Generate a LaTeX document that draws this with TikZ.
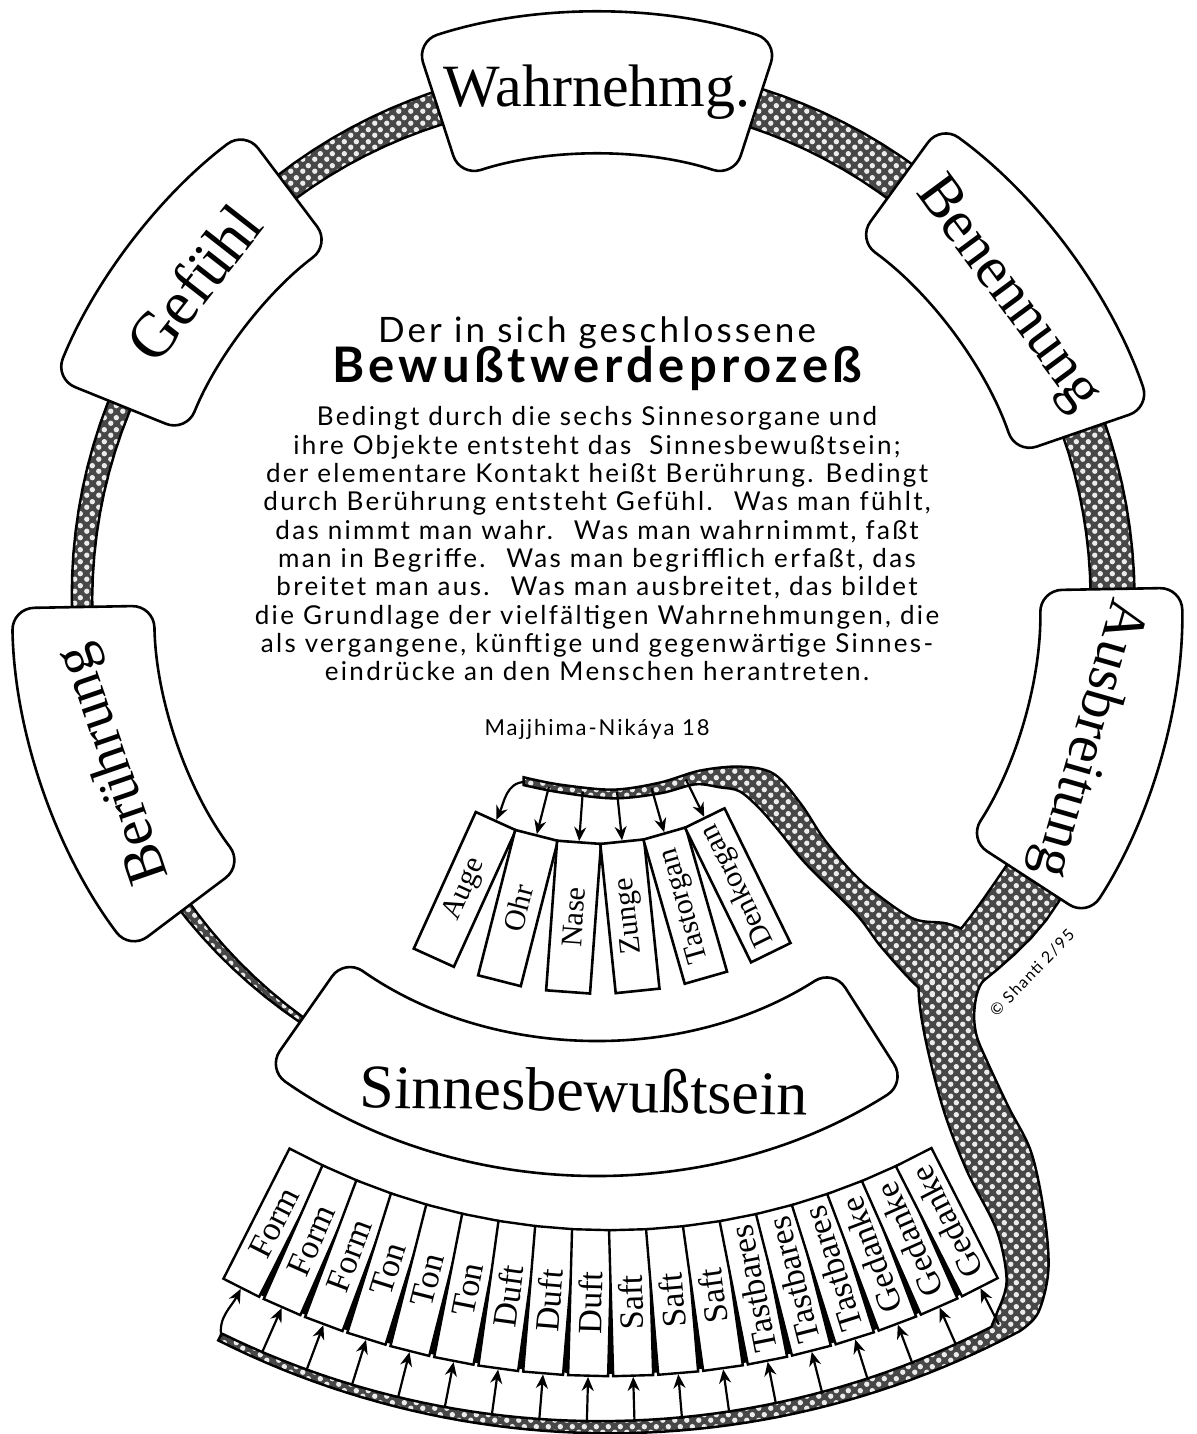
\documentclass[tikz,border=0pt]{standalone}
\usepackage{fontspec}
\setmainfont{Liberation Serif}
\newfontfamily\labelfont{Liberation Serif}
\newfontfamily\bodyfont[LetterSpace=9]{Lato}
\usetikzlibrary{calc,patterns,arrows.meta}

% texture of the bands
\pgfdeclarepatternformonly{blobs}{\pgfpointorigin}{\pgfpoint{6pt}{6pt}}{\pgfpoint{6pt}{6pt}}{%
  \pgfpathcircle{\pgfpoint{1.5pt}{1.5pt}}{1.45pt}%
  \pgfpathcircle{\pgfpoint{4.5pt}{4.5pt}}{1.45pt}%
  \pgfusepath{fill}}

% half width of the ring band, and its bulge near the branch
\pgfmathdeclarefunction{rhalf}{1}{\pgfmathparse{14+6*cos(#1-30)-0.2*max(0,#1-200)}}
\pgfmathdeclarefunction{rbump}{1}{\pgfmathparse{1/(1+((#1+35)/12)^2)}}

\tikzset{
  bandedge/.style={draw=black, line width=2.6pt},
  bandfill/.style={fill=black!72},
  bandtex/.style={pattern=blobs, pattern color=white!92!black},
  ringbox/.style={draw=black, fill=white, line width=1.3pt, rounded corners=11pt},
  ringlabel/.style={inner sep=0pt, font=\labelfont\fontsize{30}{30}\selectfont},
  organ/.style={draw=black, fill=white, line width=1.3pt, minimum width=75pt, minimum height=22pt,
    inner sep=0pt, font=\labelfont\fontsize{15}{16}\selectfont},
  objbox/.style={draw=black, fill=white, line width=1.2pt, minimum width=73pt, minimum height=20pt,
    inner sep=0pt, font=\labelfont\fontsize{17}{18}\selectfont},
  arr/.style={line width=1.1pt, -{Stealth[length=7pt, width=6pt]}},
  bodyline/.style={anchor=base, inner sep=0pt, font=\bodyfont\fontsize{13}{15}\selectfont}
}

% curved box on the ring: start angle, end angle, inner and outer radius
\newcommand\ringsector[4]{%
  \draw[ringbox, shift={(C)}] (#1:#3) arc[start angle=#1, end angle=#2, radius=#3]
    -- (#2:#4) arc[start angle=#2, end angle=#1, radius=#4] -- cycle;}

\begin{document}
\begin{tikzpicture}[x=0.5pt, y=0.5pt]
  \useasboundingbox (0,0) rectangle (1197,1434);
  \fill[white] (0,0) rectangle (1197,1434);
  \coordinate (C) at (597,836);
  \coordinate (O) at (610,873);

  % Bands
  \path[save path=\ringpath]
    plot[domain=-50:235, samples=120, variable=\t]
      ({597+(515+rhalf(\t)+20*rbump(\t))*cos(\t)}, {836+(515+rhalf(\t)+20*rbump(\t))*sin(\t)})
    -- plot[domain=235:-50, samples=120, variable=\t]
      ({597+(515-rhalf(\t)-8*rbump(\t))*cos(\t)}, {836+(515-rhalf(\t)-8*rbump(\t))*sin(\t)})
    -- cycle;
  \path[save path=\organpath]
    plot[smooth, tension=0.55] coordinates {(525,655) (560,648) (613,643) (660,650) (700,662)
      (740,666) (773,659) (800,629) (823,594) (850,562) (873,541) (913,514) (947,509) (978,497)}
    -- plot[smooth, tension=0.55] coordinates {(948,432) (920,447) (883,487) (857,521) (807,571)
      (780,604) (760,627) (740,644) (720,648) (695,651) (660,642) (613,637) (560,643) (525,650)}
    -- cycle;
  \path[save path=\downpath]
    plot[smooth, tension=0.55] coordinates {(1040,540) (1007,481) (980,451) (973,424) (975,399)
      (985,374) (1007,327) (1030,281) (1043,219) (1047,164) (1037,122) (1019,104)}
    -- plot[domain=-62:-116.6, samples=50, variable=\t] ({610+871*cos(\t)}, {873+871*sin(\t)})
    -- plot[domain=-116.6:-63.5, samples=50, variable=\t]
      ({610+(866-(\t+116.6)*0.17)*cos(\t)}, {873+(866-(\t+116.6)*0.17)*sin(\t)})
    -- plot[smooth, tension=0.55] coordinates {(1000,125) (1008,154) (998,204) (968,264) (945,324)
      (927,394) (920,444) (925,484) (960,500) (1000,520)}
    -- cycle;
  \draw[bandedge, use path=\ringpath];
  \draw[bandedge, use path=\organpath];
  \draw[bandedge, use path=\downpath];
  \fill[bandfill, use path=\ringpath];
  \fill[bandfill, use path=\organpath];
  \fill[bandfill, use path=\downpath];
  \fill[bandtex, use path=\ringpath];
  \fill[bandtex, use path=\organpath];
  \fill[bandtex, use path=\downpath];

  % Boxes on the ring
  \ringsector{72}{108}{443}{585}
  \ringsector{19}{54}{443}{585}
  \ringsector{-33}{1}{443}{585}
  \ringsector{181}{217}{443}{585}
  \ringsector{127}{158}{443}{585}
  \ringsector{-125}{-57.5}{440}{575}
  \node[ringlabel] (wahrnehmung) at ($(C)+(90:506)$) {Wahrnehmg.};
  \node[ringlabel, rotate=-53.5] (benennung) at ($(C)+(36.5:510)$) {Benennung};
  \node[ringlabel, rotate=-106, font=\labelfont\fontsize{29}{29}\selectfont] (ausbreitung) at ($(C)+(-16:510)$) {Ausbreitung};
  \node[ringlabel, rotate=109, font=\labelfont\fontsize{29}{29}\selectfont] (beruehrung) at ($(C)+(199:510)$) {Berührung};
  \node[ringlabel, rotate=52, font=\labelfont\fontsize{32}{32}\selectfont] (gefuehl) at ($(C)+(142:512)$) {Gefühl};
  \node[ringlabel, rotate=-1, font=\labelfont\fontsize{31}{31}\selectfont] (sinnesbewusstsein) at ($(C)+(-91.5:492)$) {Sinnesbewußtsein};

  % Sense organs
  \foreach \name/\a in {Auge/-114.4,Ohr/-104.3,Nase/-94.2,Zunge/-84.1,Tastorgan/-74,Denkorgan/-63.9}
    \node[organ, rotate=\a+180] (\name) at ($(C)+(\a:320)$) {\name};
  \coordinate (orgstart) at (525,652);
  \draw[arr] (orgstart) to[out=180, in=66] (Auge.east);
  \foreach \name/\a/\r in {Ohr/-104.3/195,Nase/-94.2/194,Zunge/-84.1/195,Tastorgan/-74/198,Denkorgan/-63.9/202} {
    \coordinate (\name-in) at ($(C)+(\a:\r)$);
    \draw[arr] (\name-in) -- (\name.east);
  }

  % Objects
  \fill[black, shift={(O)}] (-116.9:671) arc[start angle=-116.9, end angle=-63, radius=671]
    -- (-63:813) arc[start angle=-63, end angle=-116.9, radius=813] -- cycle;
  \foreach \name [count=\i] in {Form,Form,Form,Ton,Ton,Ton,Duft,Duft,Duft,Saft,Saft,Saft,
      Tastbares,Tastbares,Tastbares,Gedanke,Gedanke,Gedanke} {
    \pgfmathsetmacro\a{-116.9+3.17*(\i-1)}
    \node[objbox, rotate=\a+180] (obj\i) at ($(O)+(\a:742)$) {\name};
  }
  \coordinate (bandend) at ($(O)+(-116.6:868)$);
  \draw[arr] (bandend) to[out=100, in=243] (obj1.west);
  \foreach \i in {2,...,18} {
    \pgfmathsetmacro\a{-116.9+3.17*(\i-1)}
    \pgfmathsetmacro\r{866-(\a+116.6)*0.17}
    \coordinate (src\i) at ($(O)+(\a:\r)$);
    \draw[arr] (src\i) -- (obj\i.west);
  }

  % Text
  \node[anchor=base, inner sep=0pt, font=\bodyfont\fontsize{17.5}{19}\selectfont] (title) at (597,1091)
    {Der in sich geschlossene};
  \node[anchor=base, inner sep=0pt, font=\bodyfont\bfseries\fontsize{24.5}{27}\selectfont] (heading) at (597,1051)
    {Bewußtwerdeprozeß};
  \foreach \txt [count=\i] in {
      {Bedingt durch die sechs Sinnesorgane und},
      {ihre Objekte entsteht das \ Sinnesbewußtsein;},
      {der elementare Kontakt heißt Berührung. Bedingt},
      {durch Berührung entsteht Gefühl. \ Was man fühlt,},
      {das nimmt man wahr. \ Was man wahrnimmt, faßt},
      {man in Begriffe. \ Was man begrifflich erfaßt, das},
      {breitet man aus. \ Was man ausbreitet, das bildet},
      {die Grundlage der vielfältigen Wahrnehmungen, die},
      {als vergangene, künftige und gegenwärtige Sinnes-},
      {eindrücke an den Menschen herantreten.}}
    \node[bodyline] (line\i) at (597,{1008-28.3*(\i-1)}) {\txt};
  \node[bodyline, font=\bodyfont\fontsize{11}{13}\selectfont] (source) at (597,698) {Majjhima-Nikáya 18};
  \node[rotate=46, inner sep=0pt, font=\bodyfont\fontsize{8}{9}\selectfont] (copy) at (1032,461) {© Shanti 2/95};
\end{tikzpicture}
\end{document}
